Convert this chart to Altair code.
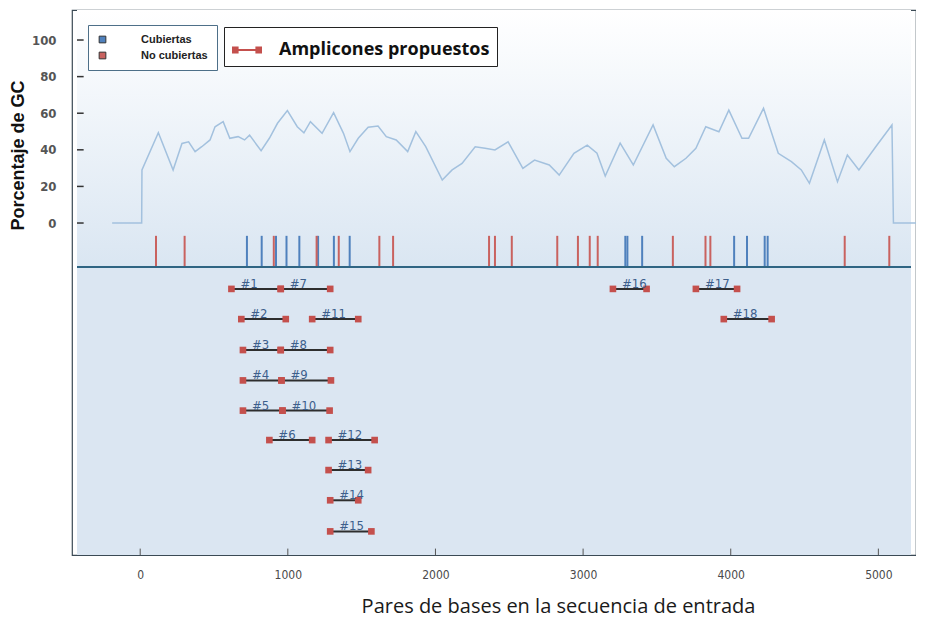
import altair as alt
import pandas as pd

# ---------------- data ----------------
gc_bp = [-190, 10, 12, 123, 223, 283, 328, 372, 417, 473, 507, 562, 607, 663, 707,
         741, 819, 875, 930, 997, 1064, 1109, 1153, 1232, 1310, 1377, 1421, 1477, 1544,
         1611, 1667, 1734, 1812, 1867, 1934, 2046, 2113, 2180, 2269, 2336, 2403, 2492,
         2592, 2671, 2771, 2838, 2938, 3028, 3094, 3150, 3251, 3340, 3474, 3563, 3618,
         3697, 3764, 3831, 3920, 3987, 4076, 4121, 4222, 4322, 4411, 4478, 4533, 4634,
         4723, 4790, 4868, 4991, 5092, 5102, 5290]
gc_pct = [0, 0, 29, 49.3, 29, 43.5, 44.4, 39, 41.7, 45.4, 52.6, 55.4, 46.3, 47.2, 45.4,
          48, 39.5, 46.3, 54.5, 61.4, 52.6, 49.3, 55.4, 49, 60.3, 49, 39, 46.3, 52.3,
          53, 47.2, 45.4, 39, 49.9, 41.7, 23.5, 29, 32.6, 41.7, 40.8, 39.9, 44.4,
          29.9, 34.4, 31.7, 26.2, 38.1, 42.6, 38.1, 25.7, 43.6, 31.7, 53.6, 35.4, 30.8,
          35.4, 40.8, 52.6, 49.9, 61.7, 46.3, 46.3, 62.7, 38.1, 33.5, 29, 21.7, 45.4,
          22.6, 37.2, 29, 42.6, 53.6, 0, 0]

covered_pos = [723, 823, 920, 991, 1078, 1205, 1312, 1419, 3286, 3300, 3400,
               4023, 4110, 4230, 4250]
uncovered_pos = [107, 301, 905, 1195, 1345, 1620, 1713, 2363, 2403, 2517, 2825, 2965,
                 3045, 3099, 3608, 3829, 3862, 4772, 5074]

amp_names = ["#1", "#7", "#2", "#11", "#3", "#8", "#4", "#9", "#5", "#10", "#6", "#12",
             "#13", "#14", "#15", "#16", "#17", "#18"]
amp_start = [618, 952, 685, 1165, 696, 952, 696, 957, 696, 964, 875, 1276,
             1276, 1287, 1287, 3202, 3764, 3953]
amp_end = [952, 1287, 986, 1477, 952, 1287, 957, 1292, 964, 1283, 1165, 1588,
           1544, 1477, 1566, 3430, 4043, 4277]
amp_lane = [1, 1, 2, 2, 3, 3, 4, 4, 5, 5, 6, 6, 7, 8, 9, 1, 1, 2]

x_tick_vals = [0, 1000, 2000, 3000, 4000, 5000]
y_tick_vals = [0, 20, 40, 60, 80, 100]

# ---------------- layout constants ----------------
X_DOM = [-428, 5221]
Y_DOM = [-181.4, 116.4]
LINE_Y = -24          # separator between GC panel and amplicon panel
TICK_TOP = -7
LANE_Y = {1: -36, 2: -52.5, 3: -69.4, 4: -86, 5: -102.5, 6: -118.6, 7: -135, 8: -151.5, 9: -168.5}

COND = "DejaVu Sans Condensed, Liberation Sans Narrow, Liberation Sans, sans-serif"

gc_df = pd.DataFrame({"bp": gc_bp, "gc": gc_pct})
cov_df = pd.DataFrame({
    "pos": covered_pos + uncovered_pos,
    "estado": ["Cubiertas"] * len(covered_pos) + ["No cubiertas"] * len(uncovered_pos),
})
amp_df = pd.DataFrame({"name": amp_names, "start": amp_start, "end": amp_end, "lane": amp_lane})
amp_df["y"] = amp_df["lane"].map(LANE_Y)
ends_df = pd.concat([
    pd.DataFrame({"x": amp_df["start"], "y": amp_df["y"]}),
    pd.DataFrame({"x": amp_df["end"], "y": amp_df["y"]}),
])
ends_df["kind"] = "Amplicones propuestos"
xt_df = pd.DataFrame({"v": x_tick_vals})
yt_df = pd.DataFrame({"v": y_tick_vals})

xs = alt.Scale(domain=X_DOM, nice=False, zero=False)
ys = alt.Scale(domain=Y_DOM, nice=False, zero=False)

x_axis = alt.Axis(values=x_tick_vals, format="d",
                  title="Pares de bases en la secuencia de entrada",
                  grid=False, domain=False, ticks=False, labelPadding=14,
                  labelFont=COND, labelFontSize=12, labelColor="#4a4a4a",
                  titleFont="Open Sans", titleFontSize=20, titleFontWeight="normal",
                  titleColor="#1a1a1a", titlePadding=16, titleX=486, titleAlign="center")
y_axis = alt.Axis(values=y_tick_vals, title="Porcentaje de GC", grid=False, domain=False,
                  ticks=False, labelPadding=16, labelFont=COND, labelFontSize=13,
                  labelFontWeight="bold", labelColor="#555555",
                  titleFont="Liberation Sans", titleFontSize=18, titleFontWeight="bold",
                  titleColor="#111111", titlePadding=4, titleY=145)


def X(field=None, datum=None):
    if field is not None:
        return alt.X(field, type="quantitative", scale=xs, axis=x_axis)
    return alt.X(datum=datum, type="quantitative", scale=xs, axis=x_axis)


def Y(field=None, datum=None):
    if field is not None:
        return alt.Y(field, type="quantitative", scale=ys, axis=y_axis)
    return alt.Y(datum=datum, type="quantitative", scale=ys, axis=y_axis)


one = pd.DataFrame({"a": [0]})

bg_top = alt.Chart(one).mark_rect(
    color=alt.Gradient(gradient="linear", x1=0, x2=0, y1=0, y2=1,
                       stops=[alt.GradientStop(color="#ffffff", offset=0),
                              alt.GradientStop(color="#dae6f2", offset=1)])
).encode(x=X(datum=X_DOM[0]), x2=alt.X2(datum=X_DOM[1]),
         y=Y(datum=Y_DOM[1]), y2=alt.Y2(datum=LINE_Y))

bg_bot = alt.Chart(one).mark_rect(color="#dbe6f2").encode(
    x=X(datum=X_DOM[0]), x2=alt.X2(datum=X_DOM[1]),
    y=Y(datum=LINE_Y), y2=alt.Y2(datum=Y_DOM[0]))

gc_line = alt.Chart(gc_df).mark_line(color="#a3c1de", strokeWidth=1.5, clip=True).encode(
    x=X("bp"), y=Y("gc"))

cov = alt.Chart(cov_df).mark_bar(size=2).encode(
    x=X("pos"), y=Y(datum=TICK_TOP), y2=alt.Y2(datum=LINE_Y),
    color=alt.Color("estado:N",
                    scale=alt.Scale(domain=["Cubiertas", "No cubiertas"],
                                    range=["#4f81bd", "#c9625f"]),
                    legend=alt.Legend(orient="none", legendX=16, legendY=15, title=None,
                                      fillColor="#ffffff", strokeColor="#4d6f88",
                                      padding=9, symbolType="square", symbolSize=45,
                                      symbolStrokeColor="#333333", symbolStrokeWidth=1,
                                      labelFont="Liberation Sans", labelFontSize=11,
                                      labelFontWeight="bold", labelColor="#222222",
                                      labelOffset=33, rowPadding=4, labelLimit=200)))

sep = alt.Chart(one).mark_rule(color="#2f6583", strokeWidth=2).encode(
    x=X(datum=X_DOM[0]), x2=alt.X2(datum=X_DOM[1]), y=Y(datum=LINE_Y))

amp_lines = alt.Chart(amp_df).mark_rule(color="#2e2e2e", strokeWidth=2).encode(
    x=X("start"), x2=alt.X2("end"), y=Y("y"))

LEG_PATH = ("M-1,-0.24H-0.56V0.24H-1Z M0.56,-0.24H1V0.24H0.56Z "
            "M-0.56,-0.06H0.56V0.06H-0.56Z")

amp_ends = alt.Chart(ends_df).mark_square(size=44, opacity=1).encode(
    x=X("x"), y=Y("y"),
    color=alt.Color("kind:N",
                    scale=alt.Scale(domain=["Amplicones propuestos"], range=["#c4504d"]),
                    legend=alt.Legend(orient="none", legendX=152, legendY=17, title=None,
                                      fillColor="#ffffff", strokeColor="#222222",
                                      padding=7, symbolType=LEG_PATH,
                                      symbolSize=900, labelFont="Open Sans",
                                      labelFontSize=18, labelFontWeight="bold",
                                      labelColor="#111111", labelOffset=16,
                                      labelLimit=400)))

amp_text = alt.Chart(amp_df).mark_text(align="left", baseline="alphabetic", dx=9, dy=-1,
                                       fontSize=13, font=COND, color="#3d5f8c").encode(
    x=X("start"), y=Y("y"), text="name:N")

xticks = alt.Chart(xt_df).mark_rule(color="#555555", strokeWidth=1).encode(
    x=X("v"), y=Y(datum=Y_DOM[0]), y2=alt.Y2(datum=Y_DOM[0] + 3.5))

yticks = alt.Chart(yt_df).mark_rule(color="#333333", strokeWidth=1.5).encode(
    y=Y("v"), x=X(datum=X_DOM[0]), x2=alt.X2(datum=X_DOM[0] + 45))

chart = alt.layer(
    bg_top, bg_bot, gc_line, cov, sep, amp_lines, amp_ends, amp_text, xticks, yticks
).resolve_scale(color="independent").properties(
    width=844, height=545,
    padding={"left": 1, "top": 2, "right": 0, "bottom": 4},
    background="#ffffff",
).configure_view(stroke="#3b4a55", strokeWidth=1.2)

chart.save("out.html", embed_options={"renderer": "svg", "actions": False})
